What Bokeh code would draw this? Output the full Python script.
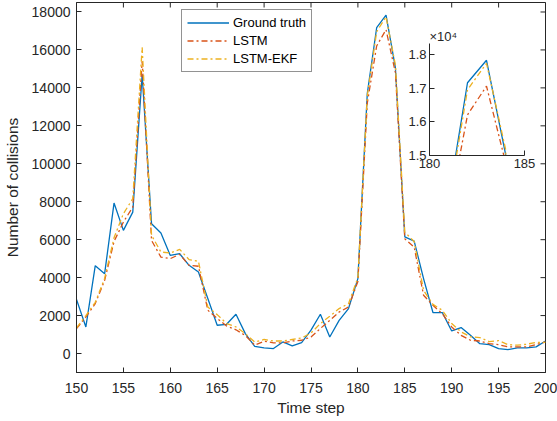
import math
from bokeh.plotting import figure
from bokeh.models import Range1d, FixedTicker, Legend, LegendItem
from bokeh.layouts import column
from bokeh.embed import file_html
from bokeh.resources import INLINE

# ---------------- data ----------------
time_step = list(range(150, 201))
ground_truth = [2850, 1400, 4630, 4210, 7930, 6490, 7450, 14700, 6840, 6350,
                5170, 5260, 4650, 4300, 2900, 1490, 1540, 2070, 1050, 380,
                300, 260, 610, 400, 580, 1230, 2070, 870, 1750, 2370,
                3950, 13700, 17170, 17840, 15050, 6150, 5920, 3950, 2160, 2160,
                1190, 1370, 960, 520, 470, 260, 210, 300, 300, 350,
                660]
lstm = [1310, 1930, 2630, 3860, 5900, 6930, 7720, 15400, 5960, 5080,
        5000, 5230, 4650, 4600, 2280, 1850, 1450, 1250, 950, 440,
        650, 560, 560, 660, 700, 870, 1320, 1750, 2190, 2450,
        3800, 13200, 16210, 17070, 14800, 6050, 5610, 3070, 2540, 2100,
        1400, 960, 700, 660, 520, 470, 350, 350, 350, 470,
        610]
lstm_ekf = [1350, 2000, 2700, 3960, 6100, 7370, 8160, 16140, 6230, 5350,
            5300, 5490, 4950, 4860, 2450, 2050, 1580, 1400, 1050, 610,
            740, 660, 660, 740, 820, 1080, 1580, 1960, 2370, 2630,
            4000, 13580, 16960, 17750, 15200, 6400, 5900, 3330, 2590, 2280,
            1580, 1140, 880, 840, 630, 680, 470, 440, 490, 590,
            590]
series_names = ["Ground truth", "LSTM", "LSTM-EKF"]
x_ticks = [150, 155, 160, 165, 170, 175, 180, 185, 190, 195, 200]
y_ticks = [0, 2000, 4000, 6000, 8000, 10000, 12000, 14000, 16000, 18000]
inset_x_ticks = [180, 185]
inset_y_ticks = [15000, 16000, 17000, 18000]
inset_y_labels = ["1.5", "1.6", "1.7", "1.8"]

# ---------------- style / layout ----------------
FONT = "Liberation Sans"
AX = "#262626"
COLORS = ["#0072BD", "#D95319", "#EDB120"]
DASH = "6 3 2 3"
W, H = 557, 421
BL, BR, BT, BB = 76, 12, 2, 49
X0, X1 = 150, 200
Y0, Y1 = -1000, 18500
frame_w = W - BL - BR
frame_h = H - BT - BB


def px(xv):
    return BL + (xv - X0) / (X1 - X0) * frame_w


def py(yv):
    return BT + (Y1 - yv) / (Y1 - Y0) * frame_h


def style_axis(ax, size="14px"):
    ax.axis_line_color = AX
    ax.major_tick_line_color = AX
    ax.minor_tick_line_color = None
    ax.major_tick_in = 5
    ax.major_tick_out = 0
    ax.major_label_text_font = FONT
    ax.major_label_text_color = AX
    ax.major_label_text_font_size = size
    ax.axis_label_text_font = FONT
    ax.axis_label_text_color = AX
    ax.axis_label_text_font_style = "normal"


p = figure(width=W, height=H, x_range=Range1d(X0, X1), y_range=Range1d(Y0, Y1),
           output_backend="svg", toolbar_location=None, frame_align=False,
           min_border_left=BL, min_border_right=BR, min_border_top=BT, min_border_bottom=BB)
p.grid.visible = False
p.outline_line_color = AX
p.outline_line_width = 1
p.background_fill_color = "white"

p.xaxis.ticker = FixedTicker(ticks=x_ticks)
p.yaxis.ticker = FixedTicker(ticks=y_ticks)
style_axis(p.xaxis[0])
style_axis(p.yaxis[0])
p.xaxis.axis_label = "Time step"
p.yaxis.axis_label = "Number of collisions"
p.xaxis.axis_label_text_font_size = "15.5px"
p.yaxis.axis_label_text_font_size = "15.5px"
p.xaxis.major_label_standoff = 10
p.yaxis.major_label_standoff = 6
p.xaxis.axis_label_standoff = 3
p.yaxis.axis_label_standoff = 8

# inward tick marks on the top and right edges of the box (half clipped by the frame)
p.scatter(x_ticks, [Y1] * len(x_ticks), marker="dash", size=10, angle=math.pi / 2,
          line_color=AX, line_width=1)
p.scatter([X1] * len(y_ticks), y_ticks, marker="dash", size=10,
          line_color=AX, line_width=1)

renderers = []
for vals, col, dash in zip([ground_truth, lstm, lstm_ekf], COLORS, ["solid", DASH, DASH]):
    r = p.line(time_step, vals, line_color=col, line_width=1.3, line_dash=dash)
    renderers.append(r)

legend = Legend(items=[LegendItem(label=n, renderers=[r]) for n, r in zip(series_names, renderers)],
                location=(105, int(round(frame_h - (72 - BT)))))
legend.border_line_color = AX
legend.border_line_width = 1
legend.background_fill_color = "white"
legend.background_fill_alpha = 1
legend.label_text_font = FONT
legend.label_text_font_size = "13px"
legend.label_text_color = "black"
legend.glyph_width = 42
legend.glyph_height = 15
legend.label_height = 15
legend.spacing = 3
legend.padding = 5
legend.margin = 0
legend.label_standoff = 4
p.add_layout(legend)

# ---------------- inset ----------------
IBL, IBR, IBT, IBB = 32, 14, 17, 20
ix0, ix1 = px(187.65), px(197.75)
iy0, iy1 = py(16316), py(10400)
IW = int(round(IBL + (ix1 - ix0) + IBR))
IH = int(round(IBT + (iy1 - iy0) + IBB))
left_off = int(round(ix0 - IBL))
top_off = int(round(iy0 - IBT))

ins = figure(width=IW, height=IH, x_range=Range1d(180, 185), y_range=Range1d(15000, 18340),
             output_backend="svg", toolbar_location=None, frame_align=False,
             min_border_left=IBL, min_border_right=IBR, min_border_top=IBT, min_border_bottom=IBB)
ins.grid.visible = False
ins.outline_line_color = None
ins.border_fill_alpha = 0
ins.background_fill_color = "white"
ins.xaxis.ticker = FixedTicker(ticks=inset_x_ticks)
ins.yaxis.ticker = FixedTicker(ticks=inset_y_ticks)
ins.yaxis.major_label_overrides = {t: s for t, s in zip(inset_y_ticks, inset_y_labels)}
style_axis(ins.xaxis[0], size="13px")
style_axis(ins.yaxis[0], size="13px")
ins.xaxis.major_label_standoff = 3
ins.yaxis.major_label_standoff = 3
for vals, col, dash in zip([ground_truth, lstm, lstm_ekf], COLORS, ["solid", DASH, DASH]):
    ins.line(time_step, vals, line_color=col, line_width=1.3, line_dash=dash)
ins.title.text = "×10⁴"
ins.title.align = "left"
ins.title.text_font = FONT
ins.title.text_font_size = "13px"
ins.title.text_font_style = "normal"
ins.title.text_color = AX
ins.title.standoff = 0
ins.title.offset = 0

ins.margin = (top_off - H, 0, H - top_off - IH, left_off)

layout = column(p, ins)
open("out.html", "w").write(file_html(layout, INLINE))
